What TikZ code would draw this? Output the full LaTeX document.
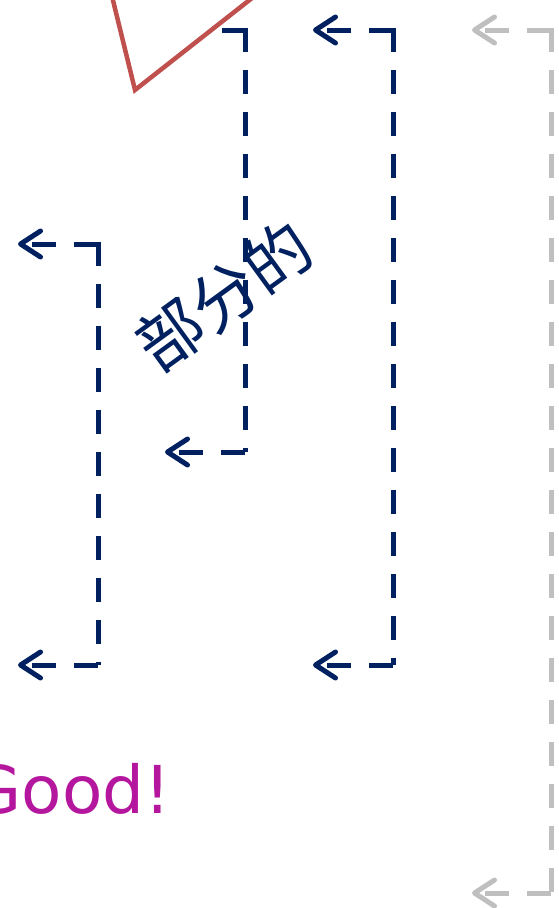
\documentclass[tikz,border=0pt]{standalone}
\usepackage{fontspec}
\setmainfont{DejaVu Sans}
\newfontfamily\cjk{Noto Sans CJK SC}
\usetikzlibrary{arrows.meta}
\definecolor{navy}{RGB}{0,32,96}
\definecolor{brick}{RGB}{192,80,77}
\definecolor{lightgray}{RGB}{191,191,191}
\definecolor{plum}{RGB}{180,22,158}
\tikzset{
  dashline/.style={line width=5pt, dash pattern=on 24pt off 18pt, shorten <=-2.5pt},
  link/.style={line width=5pt, dash pattern=on 24pt off 18pt,
    arrows={-Straight Barb[length=20pt, width=26pt, round]}}
}
\begin{document}
\begin{tikzpicture}[x=1pt, y=-1pt]
	\clip (0,0) rectangle (558,908);
	%triangle
	\draw[brick, line width=4.5pt, line join=miter] (108,-20)--(135,90)--(275,-20);
	
	%corners and end points
	\coordinate (c1t) at (245,30); \coordinate (c1b) at (245,452);
	\coordinate (s1) at (222,30); \coordinate (e1) at (165,452);
	\coordinate (c2t) at (393,30); \coordinate (c2b) at (393,665);
	\coordinate (a2) at (313,30); \coordinate (b2) at (313,665);
	\coordinate (c3t) at (98,244); \coordinate (c3b) at (98,665);
	\coordinate (a3) at (18,244); \coordinate (b3) at (18,665);
	\coordinate (c4t) at (551,30); \coordinate (c4b) at (551,893);
	\coordinate (a4) at (472,30); \coordinate (b4) at (472,893);
	
	%brackets
	\draw[dashline, navy, shorten <=0pt] (c1t)--(s1);
	\draw[dashline, navy] (c1t)--(c1b);
	\draw[link, navy] (c1b)--(e1);
	
	\draw[link, navy] (c2t)--(a2);
	\draw[dashline, navy] (c2t)--(c2b);
	\draw[link, navy] (c2b)--(b2);
	
	\draw[link, navy] (c3t)--(a3);
	\draw[dashline, navy] (c3t)--(c3b);
	\draw[link, navy] (c3b)--(b3);
	
	\draw[link, lightgray] (c4t)--(a4);
	\draw[dashline, lightgray] (c4t)--(c4b);
	\draw[link, lightgray] (c4b)--(b4);
	
	%labels
	\node[navy, rotate=36, font=\cjk\fontsize{66}{70}\selectfont] (part) at (224,296) {部分的};
	\node[plum, anchor=base west, font=\fontsize{66}{70}\selectfont] (good) at (-33,813) {Good!};
\end{tikzpicture}
\end{document}
